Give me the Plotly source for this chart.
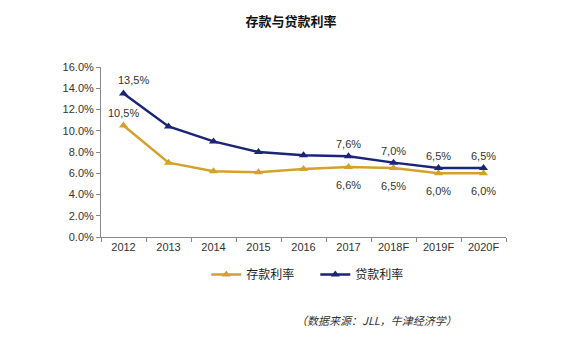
import plotly.graph_objects as go

years = ["2012", "2013", "2014", "2015", "2016", "2017", "2018F", "2019F", "2020F"]
deposit = [10.5, 7.0, 6.2, 6.1, 6.4, 6.6, 6.5, 6.0, 6.0]
loan = [13.5, 10.4, 9.0, 8.0, 7.7, 7.6, 7.0, 6.5, 6.5]
deposit_labels = ["10,5%", "", "", "", "", "6,6%", "6,5%", "6,0%", "6,0%"]
loan_labels = ["13,5%", "", "", "", "", "7,6%", "7,0%", "6,5%", "6,5%"]

gold = "#D4A12E"
navy = "#1B2578"
font = "Liberation Sans, Arial, sans-serif"

fig = go.Figure()
fig.add_trace(go.Scatter(
    x=years, y=deposit, name="存款利率", mode="lines+markers",
    line=dict(color=gold, width=2.5),
    marker=dict(symbol="triangle-up", size=8, color=gold),
    cliponaxis=False,
))
fig.add_trace(go.Scatter(
    x=years, y=loan, name="贷款利率", mode="lines+markers",
    line=dict(color=navy, width=2.5),
    marker=dict(symbol="triangle-up", size=8, color=navy),
    cliponaxis=False,
))

annotations = []
for i, (v, t) in enumerate(zip(deposit, deposit_labels)):
    if t:
        annotations.append(dict(x=i, y=v, text=t, showarrow=False, xref="x", yref="y",
                                yshift=12 if i == 0 else -18, xshift=0,
                                font=dict(size=11, color="#333333", family=font)))
for i, (v, t) in enumerate(zip(loan, loan_labels)):
    if t:
        annotations.append(dict(x=i, y=v, text=t, showarrow=False, xref="x", yref="y",
                                yshift=14 if i == 0 else 12, xshift=10 if i == 0 else 0,
                                font=dict(size=11, color="#333333", family=font)))
annotations.append(dict(text="<i>（数据来源：JLL，牛津经济学）</i>", xref="paper", yref="paper",
                        x=0.68, y=-0.49, showarrow=False, xanchor="center", yanchor="middle",
                        font=dict(size=11, color="#333333", family="Noto Sans CJK SC")))

fig.update_layout(
    width=582, height=352,
    margin=dict(l=101, r=76, t=67, b=115),
    paper_bgcolor="white", plot_bgcolor="white",
    font=dict(family=font, size=11, color="#333333"),
    title=dict(text="<b>存款与贷款利率</b>", x=0.5, xanchor="center", y=0.94, yanchor="middle",
               font=dict(size=13, color="#111111", family="Noto Sans CJK SC")),
    showlegend=True,
    legend=dict(orientation="h", x=0.26, xanchor="left", y=-0.22, yanchor="middle",
                font=dict(size=12, color="#222222", family="Noto Sans CJK SC"),
                entrywidth=64, entrywidthmode="pixels",
                itemwidth=30, tracegroupgap=0, bgcolor="rgba(0,0,0,0)"),
    xaxis=dict(type="category", showgrid=False, showline=True, linecolor="#888888", linewidth=1,
               ticks="outside", tickson="boundaries", ticklen=4, tickcolor="#888888",
               tickfont=dict(size=11, color="#333333"), range=[-0.5, 8.5]),
    yaxis=dict(range=[0, 16], dtick=2, tickformat=".1f", ticksuffix="%", showgrid=False,
               showline=True, linecolor="#888888", linewidth=1, ticks="outside", ticklen=4,
               tickcolor="#888888", tickfont=dict(size=11, color="#333333"), zeroline=False),
    annotations=annotations,
)

fig.write_html("out.html")
